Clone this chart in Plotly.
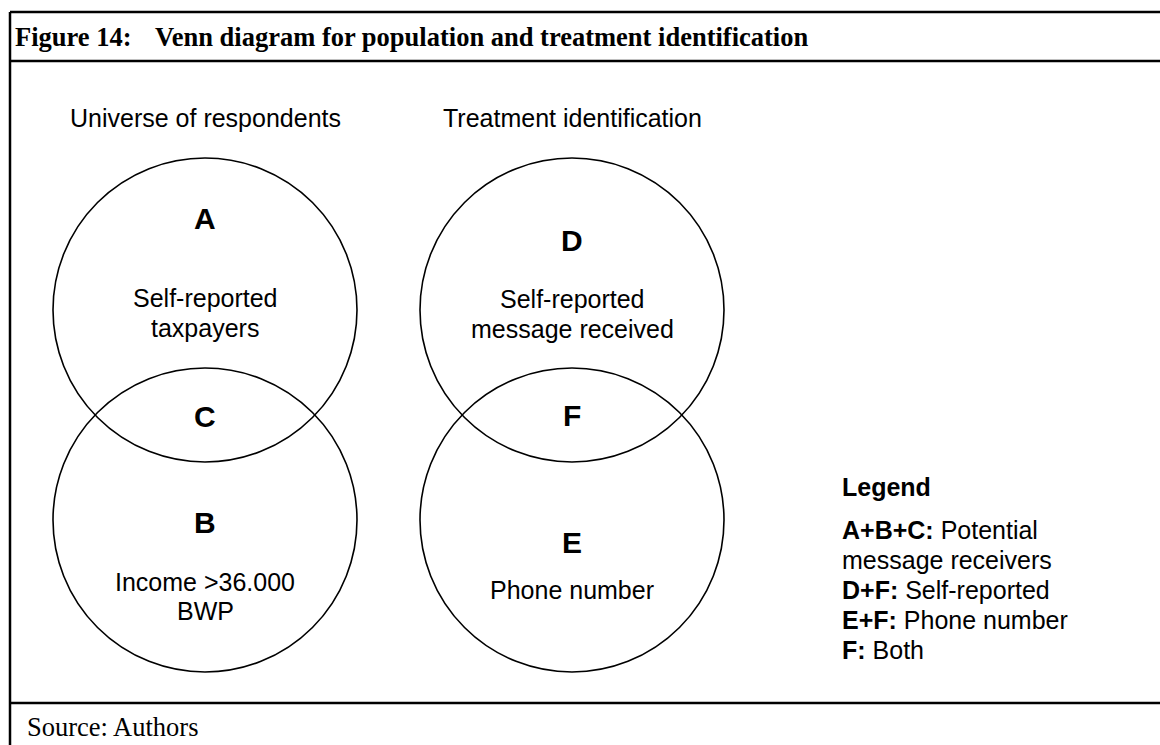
import plotly.graph_objects as go

# --- content ---
figure_no = "Figure 14:"
figure_title = "Venn diagram for population and treatment identification"
source_text = "Source: Authors"

set_titles = ["Universe of respondents", "Treatment identification"]
region_letters = ["A", "C", "B", "D", "F", "E"]
region_lines = ["Self-reported", "taxpayers", "Income >36.000", "BWP",
                "Self-reported", "message received", "Phone number"]
legend_keys = ["A+B+C:", "", "D+F:", "E+F:", "F:"]
legend_vals = ["Potential", "message receivers", "Self-reported", "Phone number", "Both"]

# --- layout constants (screen pixels, y down) ---
W, H = 1160, 745
R = 152
circles = [(205, 310), (205, 520), (572, 310), (572, 520)]
letter_pos = [(205, 218), (205, 416), (205, 522), (572, 240), (572, 415), (572, 542)]
line_pos = [(205, 298), (205, 328), (205, 582), (205, 611),
            (572, 299), (572, 329), (572, 590)]
title_pos = [(205, 118), (572, 118)]
legend_x, legend_head_y = 840, 487
legend_y = [530, 560, 590, 620, 650]

SANS = "Liberation Sans, Arial, sans-serif"
SERIF = "Liberation Serif, Times New Roman, serif"

fig = go.Figure()
shapes = []
for cx, cy in circles:
    shapes.append(dict(type="circle", xref="x", yref="y",
                       x0=cx - R, x1=cx + R, y0=cy - R, y1=cy + R,
                       line=dict(color="black", width=1.6)))

# frame
frame = dict(color="black", width=2.5)
shapes += [
    dict(type="line", xref="x", yref="y", x0=10, x1=W, y0=12, y1=12, line=frame),
    dict(type="line", xref="x", yref="y", x0=10, x1=W, y0=61, y1=61, line=frame),
    dict(type="line", xref="x", yref="y", x0=10, x1=W, y0=703, y1=703, line=frame),
    dict(type="line", xref="x", yref="y", x0=10, x1=10, y0=12, y1=H, line=frame),
]

ann = []
ann.append(dict(x=13, y=37, text=f"<b>{figure_no}</b>", xanchor="left",
                font=dict(family=SERIF, size=26.5)))
ann.append(dict(x=153, y=37, text=f"<b>{figure_title}</b>", xanchor="left",
                font=dict(family=SERIF, size=26.5)))
ann.append(dict(x=25, y=727, text=source_text, xanchor="left",
                font=dict(family=SERIF, size=26.5)))

for (x, y), t in zip(title_pos, set_titles):
    ann.append(dict(x=x, y=y, text=t, font=dict(family=SANS, size=25)))
for (x, y), t in zip(letter_pos, region_letters):
    ann.append(dict(x=x, y=y, text=f"<b>{t}</b>", font=dict(family=SANS, size=30)))
for (x, y), t in zip(line_pos, region_lines):
    ann.append(dict(x=x, y=y, text=t, font=dict(family=SANS, size=25)))

ann.append(dict(x=legend_x, y=legend_head_y, text="<b>Legend</b>", xanchor="left",
                font=dict(family=SANS, size=25)))
for y, k, v in zip(legend_y, legend_keys, legend_vals):
    t = f"<b>{k}</b> {v}" if k else v
    ann.append(dict(x=legend_x, y=y, text=t, xanchor="left",
                    font=dict(family=SANS, size=25)))

for a in ann:
    a.update(xref="x", yref="y", showarrow=False)
    a["font"]["color"] = "black"

fig.update_layout(
    width=W, height=H,
    margin=dict(l=0, r=0, t=0, b=0),
    paper_bgcolor="white", plot_bgcolor="white",
    shapes=shapes, annotations=ann,
    xaxis=dict(range=[0, W], visible=False, fixedrange=True),
    yaxis=dict(range=[H, 0], visible=False, fixedrange=True),
    showlegend=False,
)

# drop the default 8px body margin so the figure sits flush in the window
fig.write_html("out.html", config={"displayModeBar": False},
               post_script="document.body.style.margin='0';"
                           "document.body.style.overflow='hidden';")
